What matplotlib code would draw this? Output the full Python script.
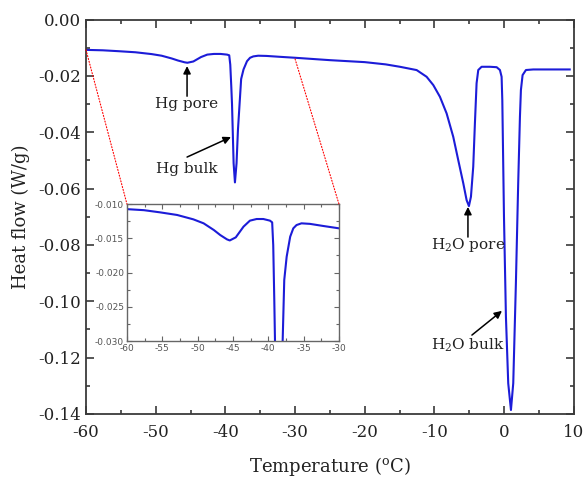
import matplotlib
matplotlib.use("Agg")
import matplotlib.pyplot as plt
from matplotlib.patches import ConnectionPatch
from matplotlib.ticker import MultipleLocator, FormatStrFormatter

# ---- data ----
temperature = [-60.0, -57.6, -55.3, -52.9, -50.6, -49.15, -47.7, -46.8, -45.85, -45.45,
               -44.6, -43.5, -42.6, -41.65, -40.7, -39.76, -39.45, -39.3, -39.15, -39.05,
               -38.82, -38.63, -38.4, -38.2, -37.9, -37.74, -37.4, -36.9, -36.46, -36.0,
               -35.3, -34.1, -32.2, -30.0, -25.0, -20.0, -17.0, -14.96, -12.56, -11.13,
               -10.17, -9.22, -8.26, -7.31, -6.59, -5.87, -5.39, -5.06, -4.77, -4.44,
               -4.2, -3.96, -3.72, -3.24, -2.04, -1.08, -0.61, -0.37, -0.27, -0.03,
               0.25, 0.58, 0.97, 1.30, 1.68, 2.01, 2.26, 2.40, 2.64, 3.12, 4.17, 6.5, 9.4]
heat_flow = [-0.01075, -0.01090, -0.01122, -0.01160, -0.01224, -0.01282, -0.01380, -0.01453,
             -0.01516, -0.01532, -0.01487, -0.01330, -0.01243, -0.01219, -0.01219, -0.01243,
             -0.01268, -0.0160, -0.0240, -0.0300, -0.0510, -0.0578, -0.0510, -0.0392,
             -0.0274, -0.0211, -0.0177, -0.01477, -0.01355, -0.01307, -0.01282, -0.01290,
             -0.01321, -0.01355, -0.0144, -0.0151, -0.0159, -0.01675, -0.01792, -0.0203,
             -0.02325, -0.0274, -0.0333, -0.0416, -0.0499, -0.0581, -0.0641, -0.0662,
             -0.0629, -0.0522, -0.0368, -0.0226, -0.0179, -0.01675, -0.01675, -0.0169,
             -0.0179, -0.0203, -0.0286, -0.0700, -0.1055, -0.1291, -0.1386, -0.1291,
             -0.0936, -0.0581, -0.0345, -0.0250, -0.0197, -0.0179, -0.0177, -0.0177, -0.0177]

x_ticks = [-60, -50, -40, -30, -20, -10, 0, 10]
y_ticks = [0.00, -0.02, -0.04, -0.06, -0.08, -0.10, -0.12, -0.14]
inset_x_ticks = [-60, -55, -50, -45, -40, -35, -30]
inset_y_ticks = [-0.010, -0.015, -0.020, -0.025, -0.030]

labels = ["Hg pore", "Hg bulk", "H$_2$O pore", "H$_2$O bulk"]
label_pos = [(-45.5, -0.0300), (-45.5, -0.0531), (-5.2, -0.0800), (-5.2, -0.1155)]
arrow_tail = [(-45.5, -0.0272), (-45.5, -0.0488), (-5.2, -0.0772), (-4.63, -0.1120)]
arrow_tip = [(-45.5, -0.0165), (-39.2, -0.0417), (-5.2, -0.0665), (-0.32, -0.1034)]

# ---- styling ----
plt.rcParams['font.family'] = ['DejaVu Serif']
plt.rcParams['mathtext.fontset'] = 'dejavuserif'
plt.rcParams['axes.unicode_minus'] = False
line_color = '#1c1cd8'
spine_color = '#3a3a3a'

fig = plt.figure(figsize=(5.85, 4.78), dpi=100)
ax = fig.add_axes([0.147, 0.134, 0.834, 0.825])
ax.plot(temperature, heat_flow, color=line_color, lw=1.5)
ax.set_xlim(-60, 10)
ax.set_ylim(-0.14, 0.0)
ax.set_xticks(x_ticks)
ax.set_yticks(y_ticks)
ax.xaxis.set_minor_locator(MultipleLocator(5))
ax.yaxis.set_minor_locator(MultipleLocator(0.01))
ax.yaxis.set_major_formatter(FormatStrFormatter('%.2f'))
ax.tick_params(which='both', direction='in', top=True, right=True, colors=spine_color,
               labelcolor='#222222', labelsize=12, width=1.2)
ax.tick_params(axis='x', which='major', pad=7)
ax.tick_params(which='major', length=6)
ax.tick_params(which='minor', length=3)
for s in ax.spines.values():
    s.set_color(spine_color)
    s.set_linewidth(1.3)
ax.set_xlabel("Temperature ($^{\\mathrm{o}}$C)", fontsize=13, color='#222222', labelpad=10)
ax.set_ylabel("Heat flow (W/g)", fontsize=13, color='#222222', labelpad=6)

for lab, pos, tail, tip in zip(labels, label_pos, arrow_tail, arrow_tip):
    ax.text(pos[0], pos[1], lab, ha='center', va='center', fontsize=11, color='#222222')
    ax.annotate("", xy=tip, xytext=tail,
                arrowprops=dict(arrowstyle='-|>', color='black', lw=1.1,
                                mutation_scale=11, shrinkA=0, shrinkB=0))

# ---- inset ----
axin = fig.add_axes([0.217, 0.2866, 0.3624, 0.2866])
axin.plot(temperature, heat_flow, color=line_color, lw=1.5)
axin.set_xlim(-60, -30)
axin.set_ylim(-0.030, -0.010)
axin.set_xticks(inset_x_ticks)
axin.set_yticks(inset_y_ticks)
axin.xaxis.set_minor_locator(MultipleLocator(2.5))
axin.yaxis.set_minor_locator(MultipleLocator(0.0025))
axin.yaxis.set_major_formatter(FormatStrFormatter('%.3f'))
for t in axin.get_xticklabels() + axin.get_yticklabels():
    t.set_family('DejaVu Sans')
axin.tick_params(which='both', direction='in', top=True, right=True, colors='#666666',
                 labelcolor='#555555', labelsize=6.5, width=0.8, pad=2)
axin.tick_params(which='major', length=3.5)
axin.tick_params(which='minor', length=2)
for s in axin.spines.values():
    s.set_color('#666666')
    s.set_linewidth(1.0)

for xd, yd, corner in [(temperature[0], heat_flow[0], (0, 1)), (-30.0, -0.0140, (1, 1))]:
    con = ConnectionPatch(xyA=(xd, yd), coordsA=ax.transData, xyB=corner,
                          coordsB=axin.transAxes, color='red', lw=0.8, ls=':')
    fig.add_artist(con)

fig.savefig("out.png", dpi=100)
